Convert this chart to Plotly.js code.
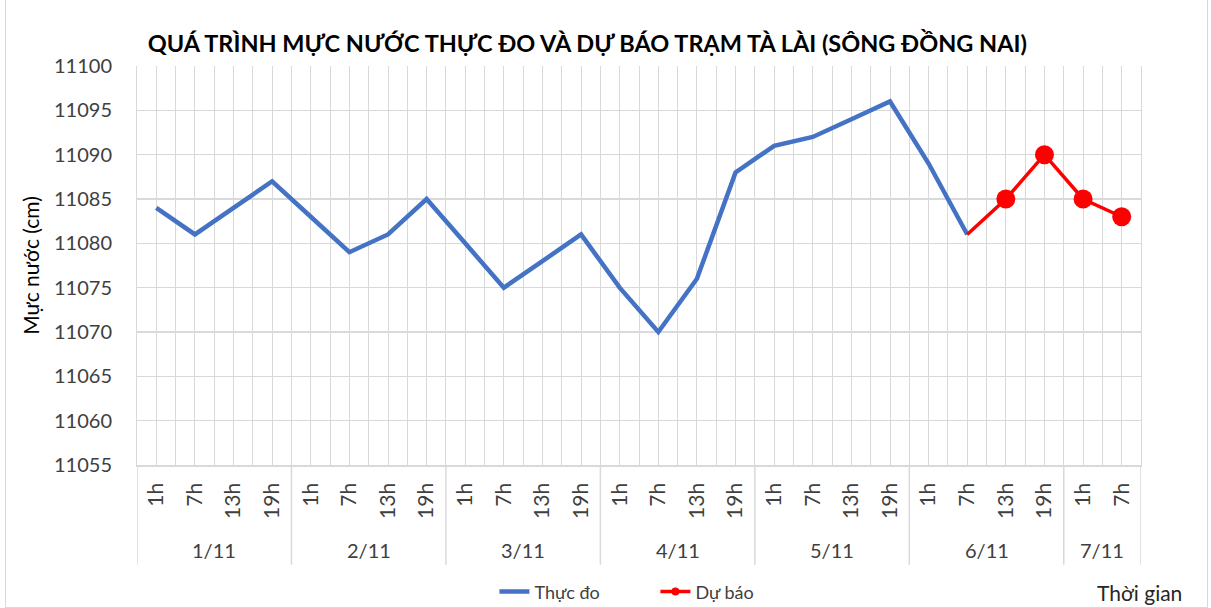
<!DOCTYPE html>
<html><head><meta charset="utf-8">
<script src="https://cdn.plot.ly/plotly-3.0.1.min.js"></script>
<style>
body{margin:0;background:#fff}
#wrap{position:relative;width:1211px;height:608px}
#chart{width:1211px;height:608px}
#frame{position:absolute;left:5px;top:0;width:1201px;height:607px;border:1px solid #d9d9d9;border-top:none;pointer-events:none}
</style>
</head><body>
<div id="wrap"><div id="chart"></div><div id="frame"></div></div>
<script>
const chartTitle = 'QUÁ TRÌNH MỰC NƯỚC THỰC ĐO VÀ DỰ BÁO TRẠM TÀ LÀI (SÔNG ĐỒNG NAI)';
const dayLabels = ['1/11','2/11','3/11','4/11','5/11','6/11','7/11'];
const hoursPerDay = [4,4,4,4,4,4,2];
const hourLabels = ['1h','7h','13h','19h','1h','7h','13h','19h','1h','7h','13h','19h',
                    '1h','7h','13h','19h','1h','7h','13h','19h','1h','7h','13h','19h','1h','7h'];
const observed = [11084,11081,11084,11087, 11083,11079,11081,11085, 11080,11075,11078,11081,
                  11075,11070,11076,11088, 11091,11092,11094,11096, 11089,11081];
const forecast = [null,null,null,null, null,null,null,null, null,null,null,null,
                  null,null,null,null, null,null,null,null, null,11081,11085,11090, 11085,11083];
const yTicks = [11055,11060,11065,11070,11075,11080,11085,11090,11095,11100];

const FONT = 'Lato, "Open Sans", sans-serif';
const idx = hourLabels.map((_, i) => i);
const obsX = observed.map((_, i) => i);
const fcSizes = forecast.map((v, i, a) => (v !== null && i > 0 && a[i-1] !== null) ? 19 : 0);

const traces = [
  {x: obsX, y: observed, type: 'scatter', mode: 'lines', name: 'Thực đo',
   line: {color: '#4472C4', width: 4.5}},
  {x: idx, y: forecast, type: 'scatter', mode: 'lines+markers', name: 'Dự báo', showlegend: false,
   line: {color: '#FF0000', width: 3.5},
   marker: {color: '#FF0000', size: fcSizes, opacity: 1, line: {width: 0}},
   connectgaps: false},
  {x: [null], y: [null], type: 'scatter', mode: 'lines+markers', name: 'Dự báo',
   line: {color: '#FF0000', width: 3.5}, marker: {color: '#FF0000', size: 8}}
];

const annotations = [];
const shapes = [];
let start = 0;
dayLabels.forEach((d, k) => {
  const n = hoursPerDay[k];
  annotations.push({x: start + (n - 1) / 2, y: -0.213, xref: 'x', yref: 'paper', text: d,
    showarrow: false, xanchor: 'center', yanchor: 'middle', font: {family: FONT, size: 20, color: '#404040'}});
  shapes.push({type: 'line', xref: 'x', yref: 'paper', x0: start - 0.5, x1: start - 0.5, y0: 0, y1: -0.25,
    line: {color: '#d9d9d9', width: 1.5}});
  start += n;
});
shapes.push({type: 'line', xref: 'x', yref: 'paper', x0: start - 0.5, x1: start - 0.5, y0: 0, y1: -0.25,
  line: {color: '#d9d9d9', width: 1.5}});
annotations.push({x: 0.999, y: -0.32, xref: 'paper', yref: 'paper', text: 'Thời gian', showarrow: false,
  xanchor: 'center', yanchor: 'middle', font: {family: FONT, size: 21, color: '#262626'}});

const layout = {
  width: 1211, height: 608,
  margin: {l: 137, r: 70, t: 66, b: 143, autoexpand: false},
  paper_bgcolor: '#fff', plot_bgcolor: '#fff',
  title: {text: '<b>' + chartTitle + '</b>', x: 0.485, xanchor: 'center', y: 1 - 44/608, yanchor: 'middle',
    yref: 'container', font: {family: FONT, size: 23.5, color: '#000'}},
  xaxis: {range: [-0.5, hourLabels.length - 0.5], tickmode: 'array', tickvals: idx, ticktext: hourLabels,
    tickangle: -90, ticks: '', showgrid: true, gridcolor: '#d9d9d9', gridwidth: 1,
    minor: {tickmode: 'linear', tick0: -0.5, dtick: 1, showgrid: true, gridcolor: '#d9d9d9', gridwidth: 1, ticks: ''},
    showline: true, linecolor: '#d9d9d9', linewidth: 1.5, zeroline: false, fixedrange: true,
    automargin: false, ticklabelstandoff: 8,
    tickfont: {family: FONT, size: 21, color: '#404040'}},
  yaxis: {range: [11055, 11100], tickmode: 'array', tickvals: yTicks, tickformat: 'd', ticks: '',
    showgrid: true, gridcolor: '#d9d9d9', gridwidth: 1.5, zeroline: false,
    showline: true, linecolor: '#d9d9d9', linewidth: 1, mirror: true, fixedrange: true,
    automargin: false, ticklabelstandoff: 20,
    tickfont: {family: FONT, size: 20, color: '#404040'},
    title: {text: 'Mực nước (cm)', standoff: 8, font: {family: FONT, size: 21, color: '#000'}}},
  legend: {orientation: 'h', x: 0.356, xanchor: 'left', y: -0.318, yanchor: 'middle',
    entrywidth: 116, entrywidthmode: 'pixels',
    font: {family: FONT, size: 18, color: '#404040'}},
  showlegend: true,
  annotations: annotations,
  shapes: shapes
};

Plotly.newPlot('chart', traces, layout, {displayModeBar: false, staticPlot: true});
</script>
</body></html>
